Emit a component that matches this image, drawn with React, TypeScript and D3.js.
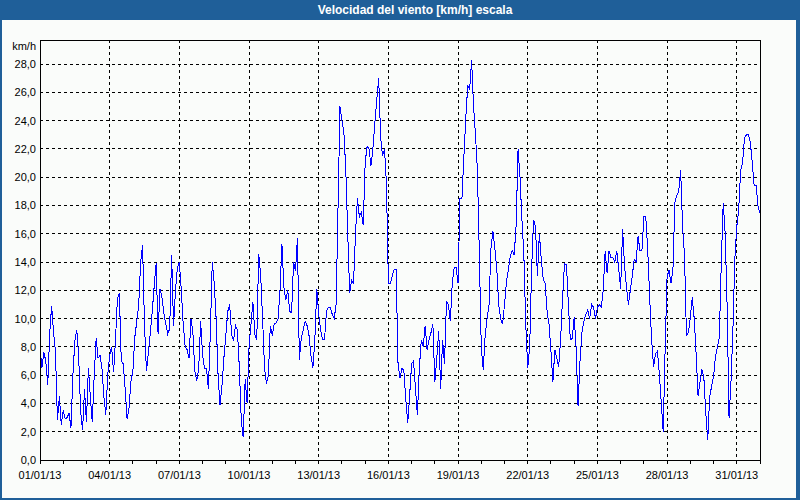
import React from 'react';
import * as d3 from 'd3';

// wind speed, km/h, one reading every 2 hours from 01/01/13 00:00
const speedsKmh = [
  8.0, 6.5, 7.6, 7.0, 5.3, 8.9, 10.9, 9.0, 7.7, 2.8, 4.5, 2.5, // 01
  3.5, 2.9, 3.0, 3.3, 2.3, 6.0, 8.4, 9.2, 7.3, 3.4, 2.1, 5.0, // 02
  2.7, 6.5, 4.5, 2.7, 6.0, 8.6, 7.2, 7.4, 6.5, 4.5, 3.2, 6.0, // 03
  7.4, 8.0, 6.2, 8.5, 11.4, 11.8, 7.0, 6.8, 5.0, 2.9, 3.7, 5.6, // 04
  6.3, 8.7, 9.8, 11.0, 14.0, 15.2, 9.5, 6.3, 7.6, 9.0, 10.5, 12.3, // 05
  13.9, 8.9, 12.1, 11.5, 10.4, 9.6, 8.9, 9.3, 14.5, 9.5, 12.0, 13.6, // 06
  14.0, 12.0, 9.6, 8.0, 7.8, 7.2, 10.0, 9.0, 6.3, 5.6, 6.5, 9.8, // 07
  7.4, 6.5, 6.5, 5.0, 9.0, 14.0, 12.5, 10.0, 6.0, 3.9, 5.2, 7.2, // 08
  8.8, 10.5, 11.0, 8.9, 8.4, 9.5, 9.2, 6.5, 2.8, 1.6, 5.7, 4.0, // 09
  8.0, 9.6, 11.2, 8.9, 8.5, 14.6, 13.1, 10.0, 6.5, 5.4, 6.0, 9.5, // 10
  8.8, 9.6, 9.7, 10.0, 12.0, 15.3, 12.2, 11.3, 12.0, 10.5, 10.4, 14.0, // 11
  13.4, 15.7, 7.1, 8.6, 9.2, 9.8, 9.5, 8.8, 7.4, 6.5, 8.5, 12.1, // 12
  10.3, 9.2, 8.5, 8.5, 10.5, 10.8, 10.8, 10.3, 10.0, 11.0, 18.0, 25.0, // 13
  24.0, 23.2, 20.5, 16.0, 11.8, 12.7, 12.5, 16.0, 18.5, 17.2, 17.5, 16.6, // 14
  21.0, 22.2, 22.0, 20.8, 22.0, 23.8, 25.5, 27.0, 22.8, 21.5, 22.0, 19.5, // 15
  12.5, 12.5, 13.0, 13.5, 13.5, 6.7, 5.8, 6.5, 6.3, 4.3, 2.6, 4.6, // 16
  6.8, 7.0, 5.0, 3.2, 6.5, 8.5, 8.0, 9.5, 7.8, 8.5, 9.0, 9.6, // 17
  5.5, 7.2, 9.1, 5.0, 8.5, 6.8, 11.2, 11.0, 9.8, 12.5, 13.6, 13.6, // 18
  12.5, 18.5, 18.5, 21.4, 24.2, 26.5, 26.2, 28.3, 25.0, 23.0, 20.5, 14.5, // 19
  7.9, 6.4, 8.8, 10.0, 11.0, 15.0, 16.2, 15.0, 13.5, 11.0, 10.0, 9.6, // 20
  11.0, 12.6, 13.5, 14.4, 14.8, 14.5, 16.6, 22.0, 20.0, 17.0, 14.5, 9.5, // 21
  6.5, 8.0, 13.5, 17.0, 16.5, 13.0, 16.0, 14.2, 12.8, 12.5, 10.5, 9.6, // 22
  7.7, 5.5, 7.8, 7.2, 6.6, 8.6, 11.5, 13.9, 13.8, 11.0, 8.5, 8.6, // 23
  10.1, 7.9, 3.8, 7.0, 9.0, 9.8, 10.3, 10.6, 10.0, 11.0, 10.8, 10.0, // 24
  10.8, 11.0, 10.8, 12.0, 14.8, 13.2, 14.8, 14.3, 14.3, 14.0, 14.8, 13.5, // 25
  12.1, 16.3, 13.8, 12.2, 11.0, 12.0, 13.0, 14.2, 14.0, 15.8, 14.8, 14.8, // 26
  17.2, 17.2, 14.8, 11.5, 8.5, 6.6, 7.5, 7.7, 6.1, 4.0, 2.0, 8.0, // 27
  13.0, 13.4, 12.5, 13.4, 18.2, 18.7, 19.0, 20.5, 16.5, 14.5, 8.8, 9.0, // 28
  10.1, 11.5, 10.0, 7.5, 4.5, 5.5, 6.4, 5.8, 3.3, 1.4, 4.5, 5.2, // 29
  5.9, 7.3, 8.0, 8.7, 14.0, 18.2, 16.0, 11.0, 3.0, 5.5, 9.2, 14.2, // 30
  16.5, 17.7, 20.5, 21.0, 22.8, 23.0, 23.0, 22.5, 21.0, 19.4, 19.4, 17.9, // 31
  17.5,
];

const yTicks = [0, 2, 4, 6, 8, 10, 12, 14, 16, 18, 20, 22, 24, 26, 28];
const titleText = 'Velocidad del viento [km/h] escala';
const unitText = 'km/h';

const STEP_MS = 2 * 3600 * 1000;
const start = new Date(Date.UTC(2013, 0, 1));
const end = new Date(Date.UTC(2013, 1, 1));

const W = 800;
const H = 500;
const margin = { top: 40, right: 40, bottom: 40, left: 40 };
const font = '"Liberation Sans", Arial, sans-serif';

export default function App() {
  const x = d3.scaleUtc().domain([start, end]).range([margin.left, W - margin.right]);
  const y = d3.scaleLinear().domain([0, 29.7]).range([H - margin.bottom, margin.top]);

  const points = speedsKmh.map((v, i) => [new Date(start.getTime() + i * STEP_MS), v] as [Date, number]);
  const line = d3.line<[Date, number]>()
    .x(d => x(d[0]))
    .y(d => y(d[1]));

  const majorTicks = d3.utcDay.every(3)!.range(start, end);
  const dayTicks = d3.utcDay.range(start, d3.utcDay.offset(end, 1));
  const fmtDate = d3.utcFormat('%d/%m/%y');
  const fmtVal = (v: number) => v.toFixed(1).replace('.', ',');

  const x0 = margin.left, x1 = W - margin.right;
  const y0 = H - margin.bottom, y1 = margin.top;

  return (
    <div style={{ position: 'absolute', left: 0, top: 0 }}>
      <svg width={W} height={H} style={{ display: 'block' }} fontFamily={font}>
        <rect x={0} y={0} width={W} height={H} fill="#1f5f99" />
        <rect x={2} y={20} width={794} height={478} fill="#fafcfa" />
        <text x={415} y={14} fill="#ffffff" fontSize={12} fontWeight="bold" textAnchor="middle">
          {titleText}
        </text>

        {/* grid */}
        {yTicks.filter(t => t > 0).map(t => (
          <line key={'gy' + t} x1={x0} x2={x1} y1={y(t)} y2={y(t)}
            stroke="#000" strokeDasharray="3,3" shapeRendering="crispEdges" />
        ))}
        {majorTicks.filter(d => d > start).map(d => (
          <line key={'gx' + d.getTime()} x1={x(d)} x2={x(d)} y1={y1} y2={y0}
            stroke="#000" strokeDasharray="3,3" shapeRendering="crispEdges" />
        ))}

        {/* series */}
        <path d={line(points) || ''} fill="none" stroke="#0000ff" strokeWidth={1}
          shapeRendering="crispEdges" />

        {/* frame */}
        <rect x={x0} y={y1} width={x1 - x0} height={y0 - y1} fill="none"
          stroke="#000" shapeRendering="crispEdges" />

        {dayTicks.map(d => (
          <line key={'dt' + d.getTime()} x1={x(d)} x2={x(d)} y1={y0} y2={y0 + 4}
            stroke="#000" shapeRendering="crispEdges" />
        ))}
        {majorTicks.map(d => (
          <text key={'xl' + d.getTime()} x={x(d)} y={479} fontSize={11} textAnchor="middle" fill="#000">
            {fmtDate(d)}
          </text>
        ))}

        {yTicks.map(t => (
          <text key={'yl' + t} x={36} y={y(t) + 4} fontSize={11} textAnchor="end" fill="#000">
            {fmtVal(t)}
          </text>
        ))}
        <text x={36} y={50} fontSize={11} textAnchor="end" fill="#000">{unitText}</text>
      </svg>
    </div>
  );
}
